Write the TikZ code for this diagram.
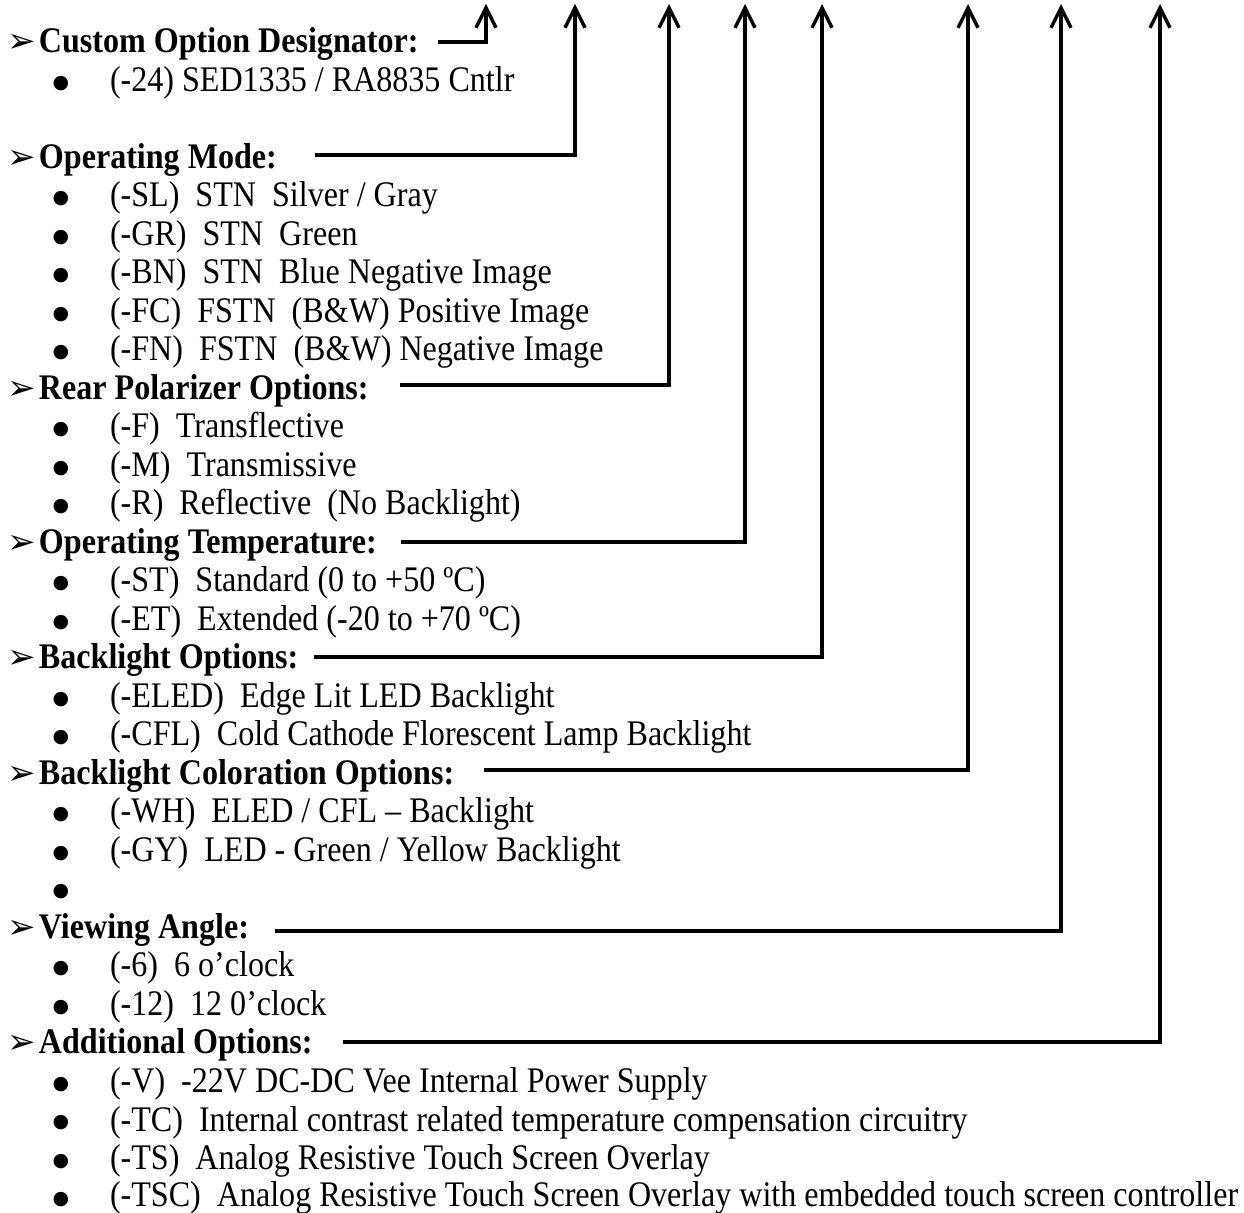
\documentclass[tikz,border=0pt]{standalone}
\usepackage{fontspec}
\setmainfont[FakeStretch=0.891]{Liberation Serif}
\newfontfamily\dingfont{DejaVu Sans}
\usetikzlibrary{arrows.meta}
\begin{document}
\begin{tikzpicture}[x=0.5pt,y=-0.5pt,
  every node/.style={inner sep=0pt, outer sep=0pt},
  txt/.style={anchor=base west, font=\fontsize{18pt}{20pt}\selectfont},
  head/.style={anchor=base west, font=\fontsize{18pt}{20pt}\selectfont\bfseries},
  bul/.style={anchor=center, font=\dingfont\fontsize{9.5pt}{10pt}\selectfont},
  mk/.style={anchor=base west, font=\dingfont\fontsize{17pt}{17pt}\selectfont},
  conn/.style={line width=1.7pt, -{Straight Barb[length=10pt,width=10pt]}}]
\useasboundingbox (0,0) rectangle (1244,1213);
% headers
\node[mk] (m1) at (7,53) {➢};    \node[head] (h1) at (39,53) {Custom Option Designator:};
\node[mk] (m2) at (7,168.5) {➢}; \node[head] (h2) at (39,168.5) {Operating Mode:};
\node[mk] (m3) at (7,399.5) {➢}; \node[head] (h3) at (39,399.5) {Rear Polarizer Options:};
\node[mk] (m4) at (7,553.5) {➢}; \node[head] (h4) at (39,553.5) {Operating Temperature:};
\node[mk] (m5) at (7,669) {➢};   \node[head] (h5) at (39,669) {Backlight Options:};
\node[mk] (m6) at (7,784.5) {➢}; \node[head] (h6) at (39,784.5) {Backlight Coloration Options:};
\node[mk] (m7) at (7,938.5) {➢}; \node[head] (h7) at (39,938.5) {Viewing Angle:};
\node[mk] (m8) at (7,1054) {➢};  \node[head] (h8) at (39,1054) {Additional Options:};
% items
\node[bul] (b1) at (61,83.5) {●};    \node[txt] (i1) at (110,91.5) {(-24) SED1335 / RA8835 Cntlr};
\node[bul] (b2) at (61,199) {●};     \node[txt] (i2) at (110,207) {(-SL)\ \ STN\ \ Silver / Gray};
\node[bul] (b3) at (61,237.5) {●};   \node[txt] (i3) at (110,245.5) {(-GR)\ \ STN\ \ Green};
\node[bul] (b4) at (61,276) {●};     \node[txt] (i4) at (110,284) {(-BN)\ \ STN\ \ Blue Negative Image};
\node[bul] (b5) at (61,314.5) {●};   \node[txt] (i5) at (110,322.5) {(-FC)\ \ FSTN\ \ (B\&W) Positive Image};
\node[bul] (b6) at (61,353) {●};     \node[txt] (i6) at (110,361) {(-FN)\ \ FSTN\ \ (B\&W) Negative Image};
\node[bul] (b7) at (61,430) {●};     \node[txt] (i7) at (110,438) {(-F)\ \ Transflective};
\node[bul] (b8) at (61,468.5) {●};   \node[txt] (i8) at (110,476.5) {(-M)\ \ Transmissive};
\node[bul] (b9) at (61,507) {●};     \node[txt] (i9) at (110,515) {(-R)\ \ Reflective\ \ (No Backlight)};
\node[bul] (b10) at (61,584) {●};    \node[txt] (i10) at (110,592) {(-ST)\ \ Standard (0 to +50 ºC)};
\node[bul] (b11) at (61,622.5) {●};  \node[txt] (i11) at (110,630.5) {(-ET)\ \ Extended (-20 to +70 ºC)};
\node[bul] (b12) at (61,699.5) {●};  \node[txt] (i12) at (110,707.5) {(-ELED)\ \ Edge Lit LED Backlight};
\node[bul] (b13) at (61,738) {●};    \node[txt] (i13) at (110,746) {(-CFL)\ \ Cold Cathode Florescent Lamp Backlight};
\node[bul] (b14) at (61,815) {●};    \node[txt] (i14) at (110,823) {(-WH)\ \ ELED / CFL – Backlight};
\node[bul] (b15) at (61,853.5) {●};  \node[txt] (i15) at (110,861.5) {(-GY)\ \ LED - Green / Yellow Backlight};
\node[bul] (b16) at (61,892) {●};
\node[bul] (b17) at (61,969) {●};    \node[txt] (i17) at (110,977) {(-6)\ \ 6 o’clock};
\node[bul] (b18) at (61,1007.5) {●}; \node[txt] (i18) at (110,1015.5) {(-12)\ \ 12 0’clock};
\node[bul] (b19) at (61,1084.5) {●}; \node[txt] (i19) at (110,1092.5) {(-V)\ \ -22V DC-DC Vee Internal Power Supply};
\node[bul] (b20) at (61,1123) {●};   \node[txt] (i20) at (110,1131) {(-TC)\ \ Internal contrast related temperature compensation circuitry};
\node[bul] (b21) at (61,1161.5) {●}; \node[txt] (i21) at (110,1169.5) {(-TS)\ \ Analog Resistive Touch Screen Overlay};
\node[bul] (b22) at (61,1200) {●};   \node[txt] (i22) at (110,1206) {(-TSC)\ \ Analog Resistive Touch Screen Overlay with embedded touch screen controller};
% connector coordinates
\coordinate (s1) at (438,42);   \coordinate (t1) at (486,4);
\coordinate (s2) at (315,155);  \coordinate (t2) at (575,4);
\coordinate (s3) at (400,385);  \coordinate (t3) at (669,4);
\coordinate (s4) at (401,542);  \coordinate (t4) at (745,4);
\coordinate (s5) at (314,657);  \coordinate (t5) at (822,4);
\coordinate (s6) at (484,770);  \coordinate (t6) at (968,4);
\coordinate (s7) at (275,931);  \coordinate (t7) at (1061,4);
\coordinate (s8) at (343,1042); \coordinate (t8) at (1160,4);
\foreach \k in {1,...,8} \draw[conn] (s\k) -| (t\k);
\end{tikzpicture}
\end{document}
